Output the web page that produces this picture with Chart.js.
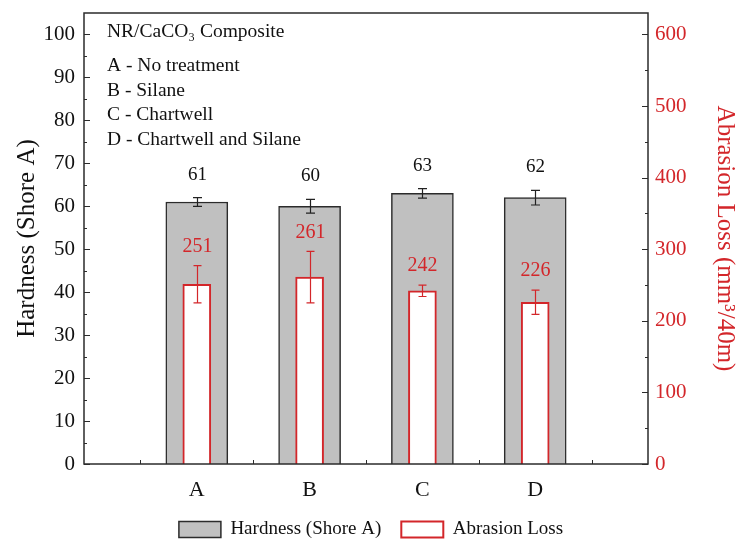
<!DOCTYPE html>
<html>
<head>
<meta charset="utf-8">
<script src="https://cdn.jsdelivr.net/npm/chart.js@4/dist/chart.umd.min.js"></script>
<style>
  html, body { margin: 0; padding: 0; background: #ffffff; }
  #wrap { width: 742px; height: 540px; }
</style>
</head>
<body>
<div id="wrap"><canvas id="chart" width="742" height="540"></canvas></div>
<script>
// Samples
const categories = ['A', 'B', 'C', 'D'];

// Hardness (Shore A), left axis
const hardness = [61, 60, 63, 62];
const hardnessErr = [1.0, 1.6, 1.1, 1.7];

// Abrasion loss (mm^3/40m), right axis
const abrasion = [251, 261, 242, 226];
const abrasionErr = [26, 36, 8, 17];

// Tick labels
const hardnessTicks = [0, 10, 20, 30, 40, 50, 60, 70, 80, 90, 100];
const abrasionTicks = [0, 100, 200, 300, 400, 500, 600];

// Notes in the upper-left corner
const noteTitle = 'NR/CaCO\u2083 Composite';
const noteLines = ['A - No treatment', 'B - Silane', 'C - Chartwell', 'D - Chartwell and Silane'];

const SERIF = "'Liberation Serif', 'Times New Roman', serif";
const RED = '#d3262a';
const DARK = '#2b2b2b';

// Empty slots at both ends put the groups at 1..4 on a 0..5 axis
const labels = ['', ...categories, ''];
const pad = arr => [null, ...arr, null];

const errorSets = { 0: hardnessErr, 1: abrasionErr };

const decorations = {
  id: 'decorations',
  afterDatasetsDraw(chart) {
    const { ctx, chartArea: a, scales } = chart;
    const { x, y, y2 } = scales;
    ctx.save();

    // plot frame
    ctx.strokeStyle = DARK;
    ctx.lineWidth = 1.5;
    ctx.strokeRect(a.left, a.top, a.right - a.left, a.bottom - a.top);

    // inward ticks, left axis (major + minor)
    ctx.lineWidth = 1;
    ctx.beginPath();
    y.ticks.forEach((t, i) => {
      const p = Math.round(y.getPixelForValue(t.value)) + 0.5;
      ctx.moveTo(a.left, p); ctx.lineTo(a.left + 6, p);
      if (i < y.ticks.length - 1) {
        const m = Math.round(y.getPixelForValue((t.value + y.ticks[i + 1].value) / 2)) + 0.5;
        ctx.moveTo(a.left, m); ctx.lineTo(a.left + 3, m);
      }
    });
    // right axis
    y2.ticks.forEach((t, i) => {
      const p = Math.round(y2.getPixelForValue(t.value)) + 0.5;
      ctx.moveTo(a.right, p); ctx.lineTo(a.right - 6, p);
      if (i < y2.ticks.length - 1) {
        const m = Math.round(y2.getPixelForValue((t.value + y2.ticks[i + 1].value) / 2)) + 0.5;
        ctx.moveTo(a.right, m); ctx.lineTo(a.right - 3, m);
      }
    });
    // bottom axis: small ticks between groups
    for (let i = 0; i < labels.length - 1; i++) {
      const p = Math.round(x.getPixelForValue(i + 0.5)) + 0.5;
      ctx.moveTo(p, a.bottom); ctx.lineTo(p, a.bottom - 4);
    }
    ctx.stroke();

    // error bars and value labels
    chart.data.datasets.forEach((ds, di) => {
      const meta = chart.getDatasetMeta(di);
      const scale = scales[ds.yAxisID];
      const errs = errorSets[di];
      const color = di === 0 ? '#222222' : RED;
      const cap = di === 0 ? 4.5 : 4;
      ctx.strokeStyle = color;
      ctx.lineWidth = 1.2;
      ds.data.forEach((v, i) => {
        if (v === null) return;
        const e = errs[i - 1];
        const cx = Math.round(meta.data[i].x) + 0.5;
        const top = scale.getPixelForValue(v + e);
        const bot = scale.getPixelForValue(v - e);
        ctx.beginPath();
        ctx.moveTo(cx, top); ctx.lineTo(cx, bot);
        ctx.moveTo(cx - cap, top); ctx.lineTo(cx + cap, top);
        ctx.moveTo(cx - cap, bot); ctx.lineTo(cx + cap, bot);
        ctx.stroke();

        ctx.fillStyle = di === 0 ? '#111111' : RED;
        ctx.font = (di === 0 ? '19px ' : '20px ') + SERIF;
        ctx.textAlign = 'center';
        ctx.textBaseline = 'middle';
        ctx.fillText(String(v), cx, top - (di === 0 ? 23 : 19));
      });
    });

    // notes
    ctx.fillStyle = '#111111';
    ctx.textAlign = 'left';
    ctx.textBaseline = 'middle';
    ctx.font = '19.5px ' + SERIF;
    ctx.fillText(noteTitle, a.left + 23, 32);
    noteLines.forEach((s, i) => ctx.fillText(s, a.left + 23, 66 + i * 24.5));

    ctx.restore();
  }
};

new Chart(document.getElementById('chart'), {
  type: 'bar',
  data: {
    labels,
    datasets: [
      {
        label: 'Hardness (Shore A)',
        data: pad(hardness),
        yAxisID: 'y',
        backgroundColor: '#c0c0c0',
        borderColor: DARK,
        borderWidth: 1.5,
        barThickness: 62,
        grouped: false,
        order: 1
      },
      {
        label: 'Abrasion Loss',
        data: pad(abrasion),
        yAxisID: 'y2',
        backgroundColor: '#ffffff',
        borderColor: RED,
        borderWidth: 2,
        barThickness: 28,
        grouped: false,
        order: 0
      }
    ]
  },
  options: {
    responsive: false,
    devicePixelRatio: 1,
    animation: false,
    layout: { padding: { top: 13, left: 0, right: 0, bottom: -9 } },
    plugins: {
      tooltip: { enabled: false },
      legend: {
        position: 'bottom',
        labels: {
          boxWidth: 42,
          boxHeight: 16,
          padding: 20,
          color: '#111111',
          font: { family: SERIF, size: 19 },
          sort: (a, b) => a.datasetIndex - b.datasetIndex
        }
      }
    },
    scales: {
      x: {
        type: 'category',
        offset: false,
        grid: { display: false, drawTicks: false },
        border: { display: false },
        ticks: {
          color: '#111111',
          font: { family: SERIF, size: 22 },
          padding: 13,
          autoSkip: false,
          maxRotation: 0
        },
        afterFit: s => { s.height = 36; }
      },
      y: {
        position: 'left',
        min: 0,
        max: 105,
        afterBuildTicks: s => { s.ticks = hardnessTicks.map(v => ({ value: v })); },
        grid: { display: false, drawTicks: false },
        border: { display: false },
        ticks: { color: '#111111', font: { family: SERIF, size: 21 }, padding: 9 },
        title: {
          display: true,
          text: 'Hardness (Shore A)',
          color: '#111111',
          font: { family: SERIF, size: 25 },
          padding: { top: 12, bottom: 0 }
        },
        afterFit: s => { s.width = 84; s.paddingTop = 0; }
      },
      y2: {
        position: 'right',
        min: 0,
        max: 630,
        afterBuildTicks: s => { s.ticks = abrasionTicks.map(v => ({ value: v })); },
        grid: { display: false, drawTicks: false },
        border: { display: false },
        ticks: { color: RED, font: { family: SERIF, size: 21 }, padding: 7 },
        title: {
          display: true,
          text: 'Abrasion Loss (mm\u00b3/40m)',
          color: RED,
          font: { family: SERIF, size: 25 },
          padding: { top: 2, bottom: 2 }
        },
        afterFit: s => { s.width = 94; s.paddingTop = 0; }
      }
    }
  },
  plugins: [decorations]
});
</script>
</body>
</html>
